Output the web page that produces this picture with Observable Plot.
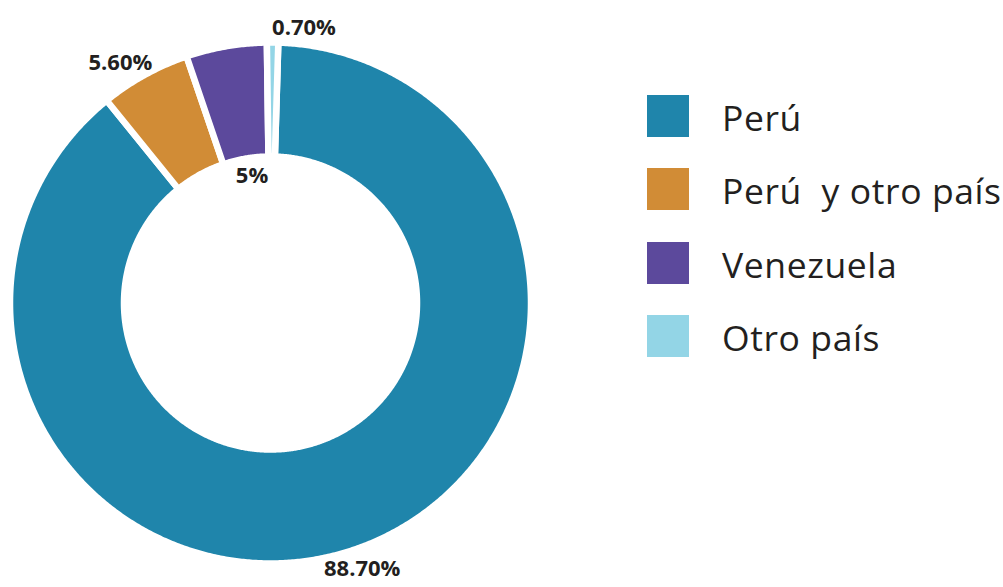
<!DOCTYPE html>
<html><head><meta charset="utf-8">
<script src="https://cdn.jsdelivr.net/npm/d3@7"></script>
<script src="https://cdn.jsdelivr.net/npm/@observablehq/plot@0.6"></script>
<style>
body{margin:0;background:#fff;}
#wrap{position:relative;width:1003px;height:587px;overflow:hidden;background:#fff;}
#chart{position:absolute;left:0;top:0;}
#legend{position:absolute;left:647px;top:95px;font-family:"Open Sans",Lato,sans-serif;color:#231f20;}
.row{display:flex;align-items:center;height:42px;margin-bottom:31.3px;}
.sw{width:42px;height:42px;margin-right:33px;flex:none;}
.lab{font-size:35.5px;white-space:pre;line-height:42px;letter-spacing:0.6px;position:relative;top:1px;}
</style></head><body>
<div id="wrap"><div id="chart"></div><div id="legend"></div></div>
<script>
// ---- data ----
const categories = ["Perú", "Perú  y otro país", "Venezuela", "Otro país"];
const values = [88.7, 5.6, 5, 0.7];
const valueLabels = ["88.70%", "5.60%", "5%", "0.70%"];
const colors = ["#1f85ab", "#d18c36", "#5c499c", "#93d5e6"];

// ---- layout (not data) ----
const innerRatio = 0.5624;
const rotationDeg = values[3] / 100 * 360 - 0.8; // Otro país sits just right of 12 o'clock
const labelRadius = [1.08, 1.088, 0.491, 1.062];
const labelShiftDeg = [-0.4, -3.1, 1.5, 6.5];

const rad = Math.PI / 180;
const table = categories.map((c, i) => ({category: c, value: values[i], label: valueLabels[i], i}));
const pie = d3.pie().sort(null).value(d => d.value)
  .startAngle(rotationDeg * rad).endAngle(rotationDeg * rad + 2 * Math.PI);
const arcs = pie(table);

// polygon vertices for each slice (unit circle coordinates)
const verts = [];
for (const a of arcs) {
  const n = Math.max(4, Math.ceil((a.endAngle - a.startAngle) / (0.4 * rad)));
  const pts = [];
  for (let k = 0; k <= n; k++) {
    const t = a.startAngle + (a.endAngle - a.startAngle) * k / n;
    pts.push([Math.sin(t), Math.cos(t)]);
  }
  for (let k = n; k >= 0; k--) {
    const t = a.startAngle + (a.endAngle - a.startAngle) * k / n;
    pts.push([innerRatio * Math.sin(t), innerRatio * Math.cos(t)]);
  }
  pts.push(pts[0]);
  pts.forEach(([x, y], j) => verts.push({category: a.data.category, x, y, j}));
}

const labelPts = arcs.map(a => {
  const i = a.data.i;
  const mid = (a.startAngle + a.endAngle) / 2 + labelShiftDeg[i] * rad;
  return {x: labelRadius[i] * Math.sin(mid), y: labelRadius[i] * Math.cos(mid), text: a.data.label};
});

const cx = 270, cy = 302.5, R = 260.5;
const chart = Plot.plot({
  width: 1003,
  height: 587,
  margin: 0,
  style: {background: "transparent", overflow: "visible"},
  x: {domain: [-1, 1], range: [cx - R, cx + R], axis: null},
  y: {domain: [-1, 1], range: [cy + R, cy - R], axis: null},
  color: {domain: categories, range: colors},
  marks: [
    Plot.line(verts, {x: "x", y: "y", z: "category", fill: "category", stroke: "white",
      strokeWidth: 6.5, strokeLinejoin: "round", curve: "linear"}),
    Plot.text(labelPts, {x: "x", y: "y", text: "text", fontSize: 22, fontWeight: "bold",
      fill: "#231f20", fontFamily: "'Open Sans', Lato, sans-serif", textAnchor: "middle", lineAnchor: "middle"})
  ]
});
document.getElementById("chart").appendChild(chart);

const legend = document.getElementById("legend");
categories.forEach((c, i) => {
  const row = document.createElement("div");
  row.className = "row";
  const sw = document.createElement("div");
  sw.className = "sw";
  sw.style.background = colors[i];
  const lab = document.createElement("div");
  lab.className = "lab";
  lab.textContent = c;
  row.appendChild(sw); row.appendChild(lab);
  legend.appendChild(row);
});
</script>
</body></html>
